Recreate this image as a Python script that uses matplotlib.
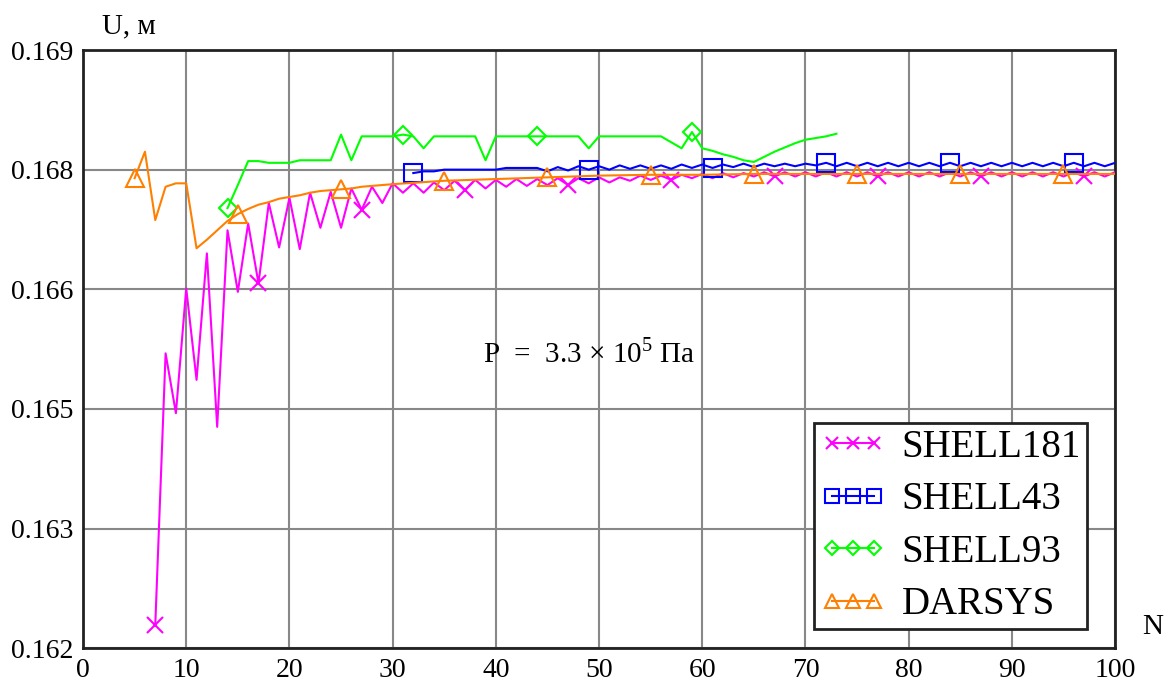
import matplotlib.pyplot as plt
from matplotlib.lines import Line2D

plt.rcParams['font.family'] = ['Liberation Serif', 'DejaVu Serif']
plt.rcParams['mathtext.fontset'] = 'custom'
plt.rcParams['mathtext.rm'] = 'Liberation Serif'

# SHELL181, N = 7..100
shell181_n = list(range(7, 101))
shell181_u = [0.16227, 0.16545, 0.16475, 0.16621, 0.16514, 0.16662, 0.16459, 0.16689, 0.16617, 0.16697,
              0.16627, 0.16721, 0.16669, 0.16727, 0.16667, 0.16733, 0.16692, 0.16734, 0.16692, 0.16738,
              0.16713, 0.16740, 0.16721, 0.16744, 0.16733, 0.16744, 0.16733, 0.16745, 0.16736, 0.16747,
              0.16736, 0.16748, 0.16738, 0.16748, 0.16740, 0.16749, 0.16741, 0.16749, 0.16742, 0.16750,
              0.16742, 0.16750, 0.16744, 0.16751, 0.16745, 0.16751, 0.16747, 0.16753, 0.16748, 0.16753,
              0.16748, 0.16754, 0.16750, 0.16755, 0.16750, 0.16756, 0.16751, 0.16756, 0.16752, 0.16757,
              0.16752, 0.16757, 0.16752, 0.16757, 0.16752, 0.16757, 0.16752, 0.16757, 0.16752, 0.16757,
              0.16752, 0.16757, 0.16752, 0.16757, 0.16752, 0.16757, 0.16752, 0.16757, 0.16752, 0.16757,
              0.16752, 0.16757, 0.16752, 0.16757, 0.16752, 0.16757, 0.16752, 0.16757, 0.16752, 0.16757,
              0.16752, 0.16757, 0.16752, 0.16757]
shell181_marks = [7, 17, 27, 37, 47, 57, 67, 77, 87, 97]

# SHELL43, N = 32..100
shell43_n = list(range(32, 101))
shell43_u = [0.16756, 0.16758, 0.16758, 0.16760, 0.16760, 0.16760, 0.16760, 0.16760, 0.16760, 0.16762,
             0.16762, 0.16762, 0.16762, 0.16758, 0.16763, 0.16759, 0.16764, 0.16760, 0.16764, 0.16760,
             0.16765, 0.16761, 0.16765, 0.16761, 0.16765, 0.16761, 0.16766, 0.16762, 0.16766, 0.16762,
             0.16766, 0.16763, 0.16767, 0.16763, 0.16767, 0.16764, 0.16767, 0.16764, 0.16767, 0.16765,
             0.16768, 0.16764, 0.16768, 0.16764, 0.16768, 0.16764, 0.16768, 0.16764, 0.16768, 0.16764,
             0.16768, 0.16764, 0.16768, 0.16764, 0.16768, 0.16764, 0.16768, 0.16764, 0.16768, 0.16764,
             0.16768, 0.16764, 0.16768, 0.16764, 0.16768, 0.16764, 0.16768, 0.16764, 0.16768]
shell43_marks = [32, 49, 61, 72, 84, 96]

# SHELL93, N = 14..73
shell93_n = list(range(14, 74))
shell93_u = [0.16715, 0.16742, 0.16770, 0.16770, 0.16768, 0.16768, 0.16768, 0.16771, 0.16771, 0.16771,
             0.16771, 0.16801, 0.16771, 0.16799, 0.16799, 0.16799, 0.16799, 0.16801, 0.16799, 0.16785,
             0.16799, 0.16799, 0.16799, 0.16799, 0.16799, 0.16771, 0.16799, 0.16799, 0.16799, 0.16799,
             0.16799, 0.16799, 0.16799, 0.16799, 0.16799, 0.16785, 0.16799, 0.16799, 0.16799, 0.16799,
             0.16799, 0.16799, 0.16799, 0.16792, 0.16785, 0.16804, 0.16785, 0.16782, 0.16778, 0.16775,
             0.16771, 0.16769, 0.16775, 0.16781, 0.16786, 0.16791, 0.16795, 0.16797, 0.16799, 0.16802]
shell93_marks = [14, 31, 44, 59]

# DARSYS
darsys_n = [5, 6, 7, 8, 9, 10, 11, 12, 13, 14, 15, 16, 17, 18, 19, 20, 21, 22, 23, 24, 25, 26, 27, 28, 29, 30,
            35, 40, 45, 50, 55, 60, 65, 70, 75, 80, 85, 90, 95, 100]
darsys_u = [0.16750, 0.16781, 0.16701, 0.16740, 0.16744, 0.16744, 0.16668, 0.16678, 0.16689, 0.16700,
            0.16708, 0.16714, 0.16719, 0.16722, 0.16726, 0.16728, 0.16730, 0.16733, 0.16735, 0.16736,
            0.16737, 0.16738, 0.16740, 0.16741, 0.16742, 0.16743,
            0.16747, 0.16749, 0.16751, 0.16753, 0.16754, 0.16754, 0.16755, 0.16755, 0.16755, 0.16755,
            0.16755, 0.16755, 0.16755, 0.16755]
darsys_marks = [5, 15, 25, 35, 45, 55, 65, 75, 85, 95]

y_ticks = [0.162, 0.1634, 0.1648, 0.1662, 0.1676, 0.169]
y_labels = ['0.162', '0.163', '0.165', '0.166', '0.168', '0.169']
x_ticks = [0, 10, 20, 30, 40, 50, 60, 70, 80, 90, 100]


def idx(n_list, marks):
    return [n_list.index(m) for m in marks]


fig = plt.figure(figsize=(11.76, 6.91), dpi=100)
ax = fig.add_axes([0.0706, 0.062, 0.8776, 0.8656])

# кривые
series = [
    (shell181_n, shell181_u, shell181_marks, '#ff00ff', 'x', 11, 'SHELL181'),
    (shell43_n, shell43_u, shell43_marks, '#0000ff', 's', 13, 'SHELL43'),
    (shell93_n, shell93_u, shell93_marks, '#00ff00', 'D', 9, 'SHELL93'),
    (darsys_n, darsys_u, darsys_marks, '#ff8000', '^', 13, 'DARSYS'),
]
handles = []
for n, u, marks, col, mk, ms, name in series:
    ax.plot(n, u, color=col, lw=1.5, marker=mk, markevery=idx(n, marks), ms=ms,
            mfc='none', mec=col, mew=1.5, zorder=3)
    handles.append(Line2D([], [], color=col, lw=1.5, marker=mk, ms=ms * 0.75,
                          mfc='none', mec=col, mew=1.5))

ax.set_xlim(0, 100)
ax.set_ylim(0.162, 0.169)
ax.set_xticks(x_ticks)
ax.set_yticks(y_ticks)
ax.set_yticklabels(y_labels)
ax.tick_params(length=0, labelsize=20, pad=7)
ax.grid(True, color='#888888', lw=1.5)
ax.set_axisbelow(True)
for sp in ax.spines.values():
    sp.set_color('#222222')
    sp.set_linewidth(2)

fig.text(0.087, 0.962, 'U, м', fontsize=21, va='center')
fig.text(0.98, 0.093, 'N', fontsize=21, ha='center', va='center')
ax.text(49, 0.16545, r'P  =  3.3 $\times$ $10^{5}$ Па', fontsize=21, ha='center', va='center')

leg = fig.legend(handles, ['SHELL181', 'SHELL43', 'SHELL93', 'DARSYS'],
                 loc='upper left', bbox_to_anchor=(814 / 1176, 1 - 423 / 691),
                 fontsize=28, numpoints=3, handlelength=1.7, handletextpad=0.4,
                 labelspacing=0.4, borderpad=0.15, fancybox=False, framealpha=1,
                 edgecolor='#222222', borderaxespad=0)
leg.get_frame().set_linewidth(2)

plt.savefig('out.png', dpi=100)
